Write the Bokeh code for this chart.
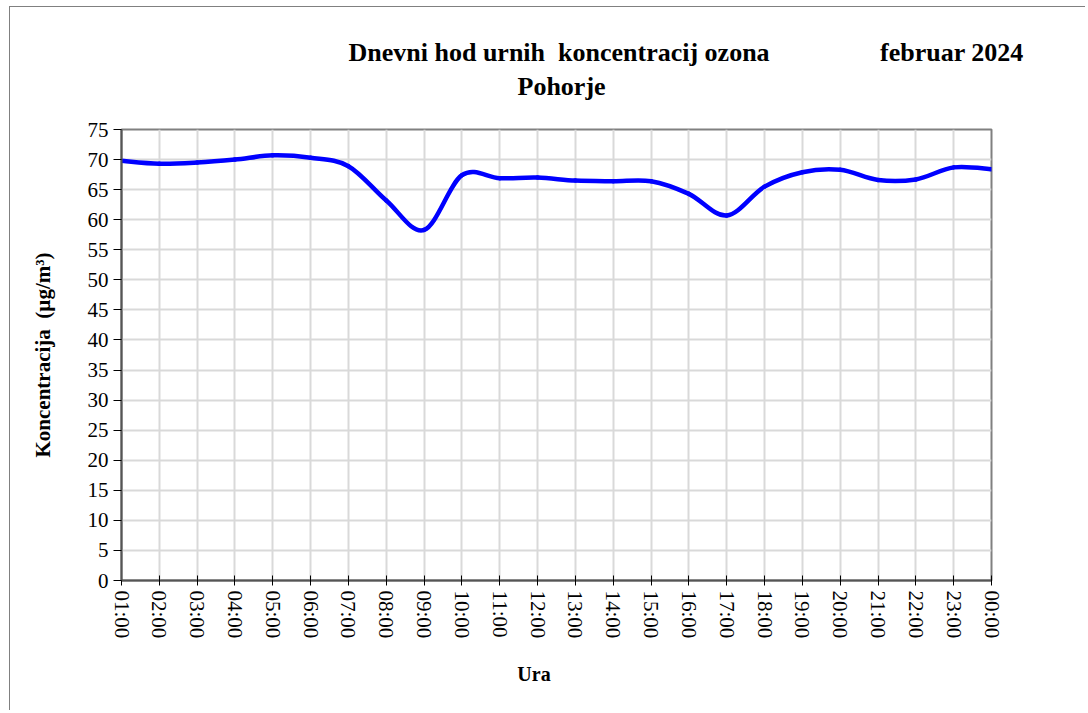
import numpy as np
from bokeh.plotting import figure
from bokeh.models import Range1d, FixedTicker, Title
from bokeh.embed import file_html
from bokeh.resources import INLINE

# ---- data ----
hours = ["01:00", "02:00", "03:00", "04:00", "05:00", "06:00", "07:00", "08:00",
         "09:00", "10:00", "11:00", "12:00", "13:00", "14:00", "15:00", "16:00",
         "17:00", "18:00", "19:00", "20:00", "21:00", "22:00", "23:00", "00:00"]
ozone = [69.8, 69.3, 69.5, 70.0, 70.7, 70.3, 68.9, 63.2,
         58.3, 67.4, 66.9, 67.0, 66.5, 66.4, 66.4, 64.3,
         60.7, 65.5, 67.9, 68.3, 66.6, 66.7, 68.7, 68.4]
y_ticks = list(range(0, 80, 5))

title_line1 = "Dnevni hod urnih\u00a0 koncentracij ozona"
title_line2 = "Pohorje"
period = "februar 2024"
y_title = "Koncentracija\u00a0 (µg/m³)"
x_title = "Ura"

FONT = "Liberation Serif"
W, H = 1076, 704
NB = "\u00a0"

p = figure(width=W, height=H, output_backend="svg", toolbar_location=None,
           x_range=Range1d(0, len(hours) - 1), y_range=Range1d(0, 75),
           min_border_left=111, min_border_right=95, min_border_top=121,
           min_border_bottom=131)
p.styles = {"margin-left": "9px", "margin-top": "6px",
            "border-left": "1px solid #808080", "border-top": "1px solid #808080"}
p.background_fill_color = "white"
p.border_fill_color = "white"
p.outline_line_color = "#808080"
p.outline_line_width = 2

xs = np.arange(len(hours), dtype=float)
ys = np.array(ozone, dtype=float)
# smooth line (cubic Bezier segments through the data points)
Qx = np.concatenate([[xs[0]], xs, [xs[-1]]])
Qy = np.concatenate([[ys[0]], ys, [ys[-1]]])
n = len(xs)
x0, y0 = Qx[1:n], Qy[1:n]
x1, y1 = Qx[2:n + 1], Qy[2:n + 1]
cx0 = x0 + (Qx[2:n + 1] - Qx[0:n - 1]) / 6.0
cy0 = y0 + (Qy[2:n + 1] - Qy[0:n - 1]) / 6.0
cx1 = x1 - (Qx[3:n + 2] - Qx[1:n]) / 6.0
cy1 = y1 - (Qy[3:n + 2] - Qy[1:n]) / 6.0
p.bezier(x0=x0, y0=y0, x1=x1, y1=y1, cx0=cx0, cy0=cy0, cx1=cx1, cy1=cy1,
         line_color="#0000FF", line_width=4.5, line_cap="round")

# axes
xt = FixedTicker(ticks=list(range(len(hours))))
p.xaxis.ticker = xt
p.xgrid.ticker = xt
p.xaxis.major_label_overrides = {i: h for i, h in enumerate(hours)}
p.xaxis.major_label_orientation = "vertical"
yt = FixedTicker(ticks=y_ticks)
p.yaxis.ticker = yt
p.ygrid.ticker = yt

for ax in (p.xaxis, p.yaxis):
    ax.axis_line_color = "#555555"
    ax.axis_line_width = 2
    ax.major_tick_line_color = "black"
    ax.major_tick_line_width = 1
    ax.minor_tick_line_color = None
    ax.major_label_text_font = FONT
    ax.major_label_text_font_size = "21px"
    ax.major_label_text_color = "black"
    ax.axis_label_text_font = FONT
    ax.axis_label_text_font_style = "bold"
    ax.axis_label_text_color = "black"
p.yaxis.major_tick_out = 8
p.yaxis.major_tick_in = 0
p.yaxis.major_label_standoff = 5
p.xaxis.major_tick_out = 5
p.xaxis.major_tick_in = 5
p.xaxis.major_label_standoff = 5

p.yaxis.axis_label = y_title
p.yaxis.axis_label_text_font_size = "21px"
p.yaxis.axis_label_standoff = 30

# trailing no-break spaces nudge the centred "Ura" slightly left, as in the original
p.xaxis.axis_label = x_title + NB * 9
p.xaxis.axis_label_text_font_size = "20px"
p.xaxis.axis_label_standoff = 22

for g in (p.xgrid, p.ygrid):
    g.grid_line_color = "#d9d9d9"
    g.grid_line_width = 2

# two-line title; no-break spaces place "februar 2024" and "Pohorje" as in the original
title_text = title_line1 + NB * 17 + period + "\n" + NB * 26 + title_line2
p.add_layout(Title(text=title_text, align="left", offset=227,
                   text_font=FONT, text_font_size="26px", text_font_style="bold",
                   text_color="black", text_line_height=1.2, standoff=56), "above")

open("out.html", "w").write(file_html(p, INLINE))
